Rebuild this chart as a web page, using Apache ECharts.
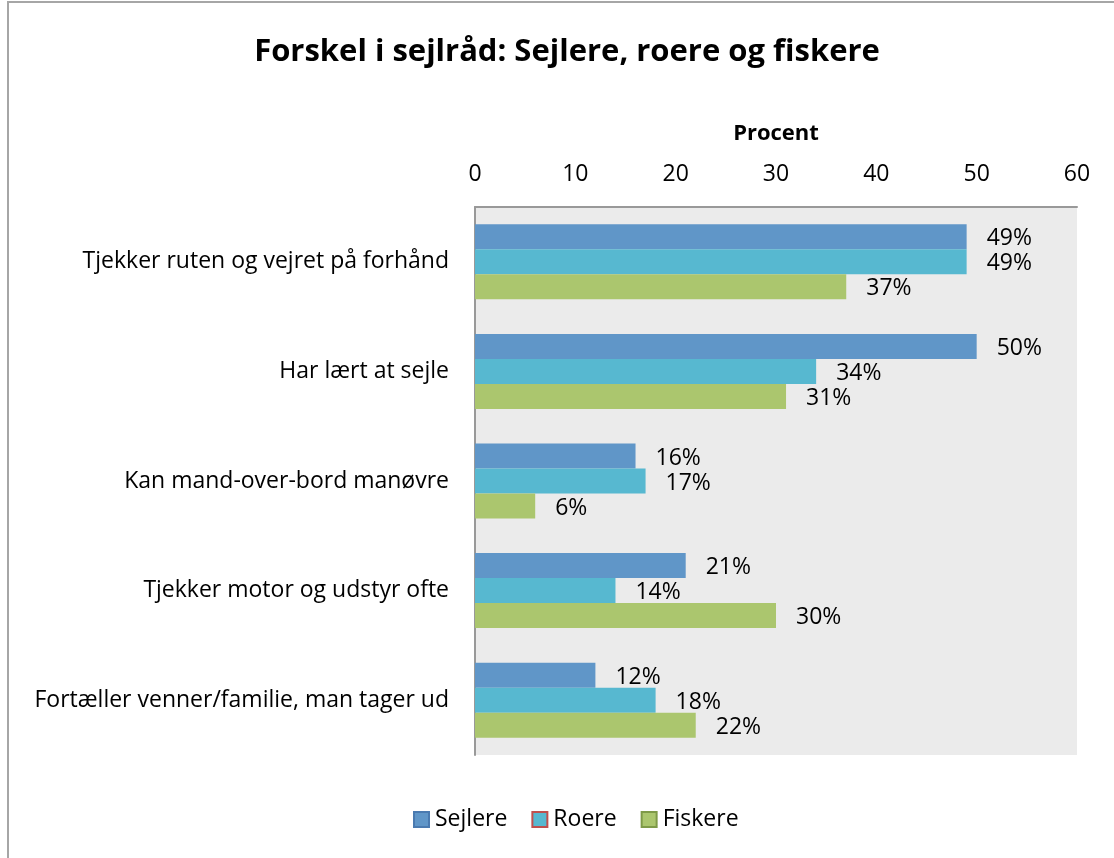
<!DOCTYPE html>
<html>
<head>
<meta charset="utf-8">
<script src="https://cdn.jsdelivr.net/npm/echarts@6/dist/echarts.min.js"></script>
<style>
    html, body { margin: 0; padding: 0; background: #fff; }
    #main { position: absolute; left: 0; top: 0; width: 1114px; height: 858px; }
    /* chart frame, only left and top edge are visible */
    #frame { position: absolute; left: 7px; top: 1px; width: 1200px; height: 900px;
             border-left: 2px solid #a6a6a6; border-top: 2px solid #a6a6a6; pointer-events: none; }
</style>
</head>
<body>
<div id="main"></div>
<div id="frame"></div>
<script>
// kategorier (fra toppen)
var categories = [
    'Tjekker ruten og vejret på forhånd',
    'Har lært at sejle',
    'Kan mand-over-bord manøvre',
    'Tjekker motor og udstyr ofte',
    'Fortæller venner/familie, man tager ud'
];
var seriesNames = ['Sejlere', 'Roere', 'Fiskere'];
var sejlere = [49, 50, 16, 21, 12];
var roere = [49, 34, 17, 14, 18];
var fiskere = [37, 31, 6, 30, 22];
var xTicks = [0, 10, 20, 30, 40, 50, 60];

var colors = ['#6096c8', '#57b8d0', '#abc66e'];
var legendBorders = ['#4a7ab0', '#c0504d', '#7e9a48'];
var fontName = 'Open Sans';
var fs = 23;

var myChart = echarts.init(document.getElementById('main'));

function makeSeries(name, data, idx) {
    return {
        name: name,
        type: 'bar',
        data: data,
        barWidth: 25,
        barGap: '0%',
        itemStyle: { color: colors[idx] },
        label: {
            show: true,
            position: 'right',
            distance: 20,
            offset: [0, 2],
            formatter: '{c}%',
            fontFamily: fontName,
            fontSize: fs,
            color: '#000'
        },
        emphasis: { disabled: true }
    };
}

var option = {
    animation: false,
    title: {
        text: 'Forskel i sejlråd: Sejlere, roere og fiskere',
        left: 562,
        textAlign: 'center',
        top: 32,
        textStyle: { fontFamily: fontName, fontSize: 31, fontWeight: 'bold', color: '#000' }
    },
    legend: {
        bottom: 22,
        left: 408,
        icon: 'rect',
        itemWidth: 15,
        itemHeight: 15,
        itemGap: 24,
        textStyle: { fontFamily: fontName, fontSize: fs, color: '#000', padding: [0, 0, 0, 1] },
        data: seriesNames.map(function (n, i) {
            return { name: n, itemStyle: { color: colors[i], borderColor: legendBorders[i], borderWidth: 2 } };
        })
    },
    grid: {
        left: 475,
        top: 207,
        width: 602,
        height: 548,
        show: true,
        backgroundColor: '#ebebeb',
        borderWidth: 0
    },
    xAxis: {
        type: 'value',
        position: 'top',
        min: xTicks[0],
        max: xTicks[xTicks.length - 1],
        interval: 10,
        name: 'Procent',
        nameLocation: 'middle',
        nameGap: 62,
        nameTextStyle: { fontFamily: fontName, fontSize: fs - 1, fontWeight: 'bold', color: '#000' },
        axisLine: { show: true, lineStyle: { color: '#999', width: 2 } },
        axisTick: { show: false },
        splitLine: { show: false },
        axisLabel: { fontFamily: fontName, fontSize: fs, color: '#000', margin: 21 }
    },
    yAxis: {
        type: 'category',
        inverse: true,
        data: categories,
        axisLine: { show: true, lineStyle: { color: '#999', width: 2 } },
        axisTick: { show: false },
        axisLabel: { fontFamily: fontName, fontSize: fs, color: '#000', margin: 26 }
    },
    series: [
        makeSeries(seriesNames[0], sejlere, 0),
        makeSeries(seriesNames[1], roere, 1),
        makeSeries(seriesNames[2], fiskere, 2)
    ]
};

myChart.setOption(option);
</script>
</body>
</html>
